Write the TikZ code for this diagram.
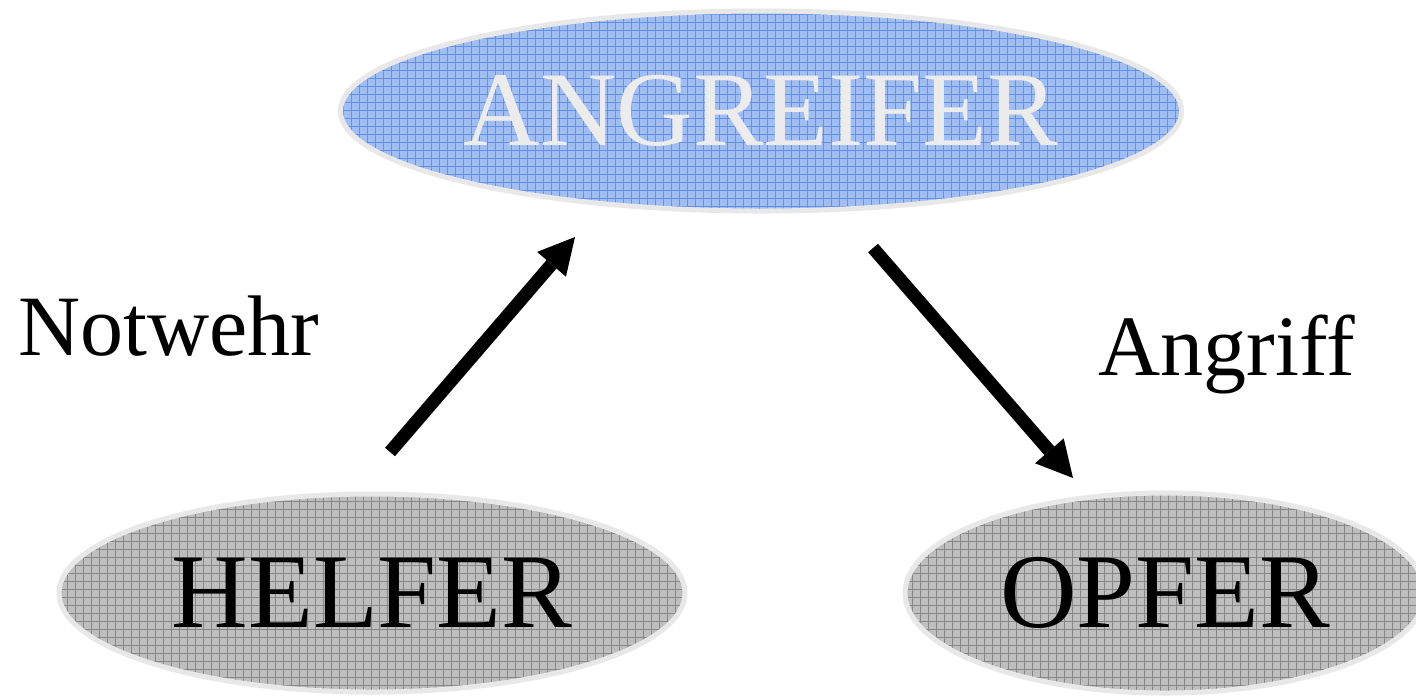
\documentclass[tikz,border=0pt]{standalone}
\usepackage{fontspec}
\setmainfont{Liberation Serif}
\usetikzlibrary{shapes.geometric,arrows.meta}
\definecolor{blueBase}{RGB}{160,190,244}
\definecolor{blueLine}{RGB}{100,145,232}
\definecolor{grayBase}{RGB}{190,190,190}
\definecolor{grayLine}{RGB}{135,135,135}
\definecolor{rim}{RGB}{232,232,232}
\definecolor{lightText}{RGB}{236,236,236}
\tikzset{
  role/.style={ellipse, draw=rim, line width=2.5pt, inner sep=0pt,
    font=\fontsize{53}{60}\selectfont},
  bluegrid/.style={fill=blueBase, path picture={
    \draw[blueLine, line width=0.5pt, step=4pt]
      (path picture bounding box.south west) grid (path picture bounding box.north east);}},
  graygrid/.style={fill=grayBase, path picture={
    \draw[grayLine, line width=0.5pt, step=4pt]
      (path picture bounding box.south west) grid (path picture bounding box.north east);}},
  caption/.style={anchor=base west, inner sep=0pt, font=\fontsize{43}{48}\selectfont},
  bigarrow/.style={line width=6.5pt, -{Triangle[length=18pt,width=19pt,line width=0pt]}},
}
\begin{document}
\begin{tikzpicture}[x=0.5pt, y=-0.5pt]
\clip (0,0) rectangle (1416,698);
\fill[white] (0,0) rectangle (1416,698);

\node[role, bluegrid, text=lightText, minimum width=415pt, minimum height=100pt]
  (angreifer) at (761,111) {\raisebox{-1.5pt}{ANGREIFER}};
\node[role, graygrid, minimum width=313pt, minimum height=99pt]
  (helfer) at (372,593) {\raisebox{-3.2pt}{HELFER}};
\node[role, graygrid, minimum width=260pt, minimum height=100pt]
  (opfer) at (1165,593) {\raisebox{-3pt}{OPFER}};

\node[caption] (notwehr) at (18,355) {Notwehr};
\node[caption] (angriff) at (1098,375) {Angriff};

\coordinate (a1s) at (390,452);
\coordinate (a1e) at (575,237);
\coordinate (a2s) at (873,248);
\coordinate (a2e) at (1073,478);
\draw[bigarrow] (a1s) -- (a1e);
\draw[bigarrow] (a2s) -- (a2e);
\end{tikzpicture}
\end{document}
